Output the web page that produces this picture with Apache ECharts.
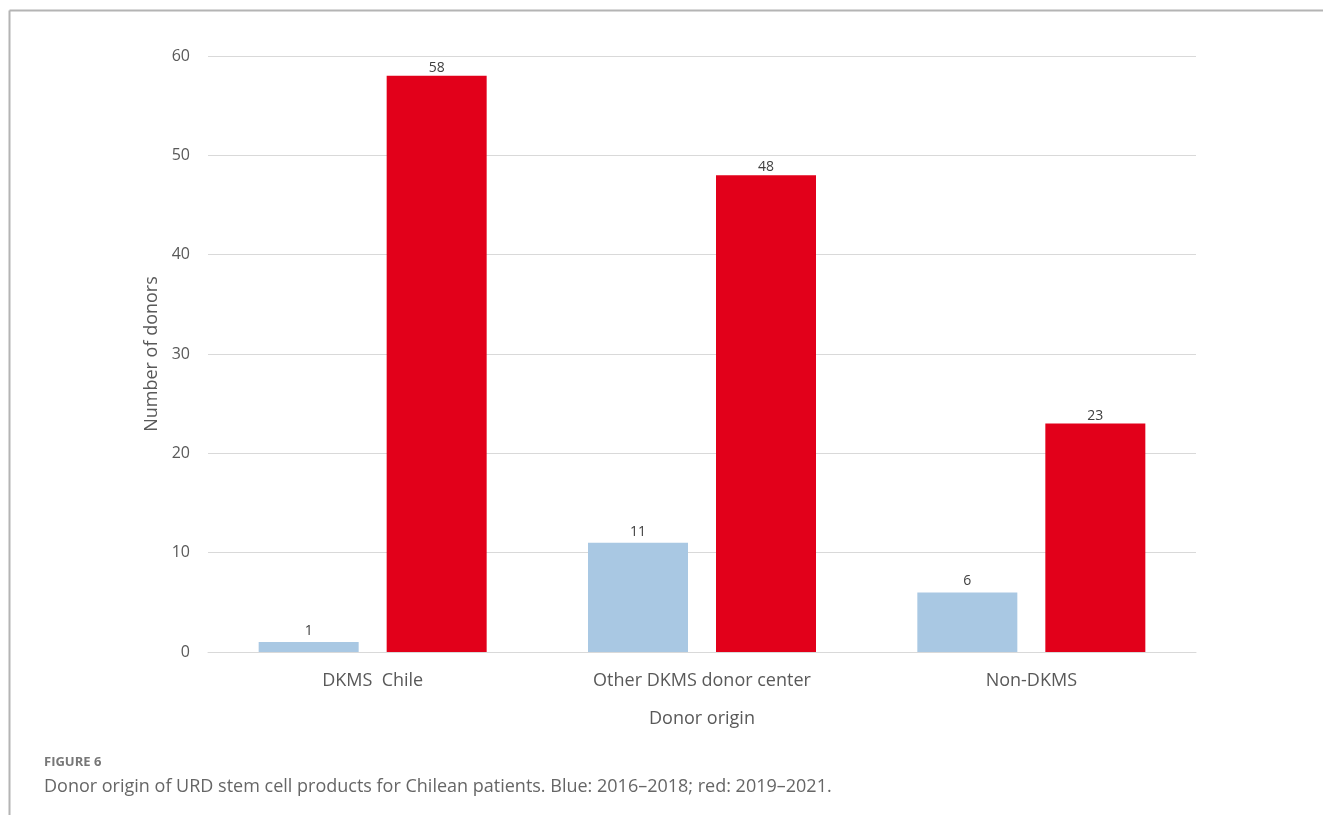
<!DOCTYPE html>
<html>
<head>
<meta charset="utf-8">
<script src="https://cdn.jsdelivr.net/npm/echarts@6/dist/echarts.min.js"></script>
<style>
html,body{margin:0;padding:0;background:#fff;}
#chart{width:1323px;height:815px;}
</style>
</head>
<body>
<div id="chart"></div>
<script>
const categories = ['DKMS  Chile', 'Other DKMS donor center', 'Non-DKMS'];
const blue2016_2018 = [1, 11, 6];
const red2019_2021 = [58, 48, 23];
const yTicks = { min: 0, max: 60, interval: 10 };

const chart = echarts.init(document.getElementById('chart'));
const textColor = '#595959';
const font = 'Open Sans';

chart.setOption({
  animation: false,
  backgroundColor: '#fff',
  grid: { left: 208, right: 127, top: 56, bottom: 163 },
  xAxis: {
    type: 'category',
    data: categories,
    name: 'Donor origin',
    nameLocation: 'middle',
    nameGap: 58,
    nameTextStyle: { color: textColor, fontSize: 18, fontFamily: font },
    axisLine: { show: true, lineStyle: { color: '#d9d9d9', width: 1 } },
    axisTick: { show: false },
    axisLabel: { color: textColor, fontSize: 18, fontFamily: font, margin: 20 }
  },
  yAxis: {
    type: 'value',
    min: yTicks.min, max: yTicks.max, interval: yTicks.interval,
    name: 'Number of donors',
    nameLocation: 'middle',
    nameGap: 40,
    nameTextStyle: { color: textColor, fontSize: 18, fontFamily: font },
    axisLine: { show: false },
    axisTick: { show: false },
    axisLabel: { color: textColor, fontSize: 16, fontFamily: font, margin: 18 },
    splitLine: { lineStyle: { color: '#d9d9d9', width: 1 } }
  },
  series: [
    {
      name: '2016–2018', type: 'bar', data: blue2016_2018,
      barWidth: 100, barGap: '28%',
      itemStyle: { color: '#a9c8e3' },
      label: { show: true, position: 'top', color: '#404040', fontSize: 14, fontFamily: font, distance: 4 }
    },
    {
      name: '2019–2021', type: 'bar', data: red2019_2021,
      barWidth: 100, barGap: '28%',
      itemStyle: { color: '#e2001a' },
      label: { show: true, position: 'top', color: '#404040', fontSize: 14, fontFamily: font, distance: 1 }
    }
  ],
  graphic: [
    { type: 'line', shape: { x1: 9.5, y1: 10.5, x2: 1323, y2: 10.5 }, style: { stroke: '#b4b4b4', lineWidth: 2 } },
    { type: 'line', shape: { x1: 9.5, y1: 10.5, x2: 9.5, y2: 815 }, style: { stroke: '#b4b4b4', lineWidth: 2 } },
    { type: 'text', left: 44, top: 756, style: { text: 'FIGURE 6', fill: '#777777', font: 'bold 13px "Open Sans"' } },
    { type: 'text', left: 44, top: 778, style: { text: 'Donor origin of URD stem cell products for Chilean patients. Blue: 2016–2018; red: 2019–2021.', fill: '#666666', font: '18px "Open Sans"' } }
  ]
});
</script>
</body>
</html>
